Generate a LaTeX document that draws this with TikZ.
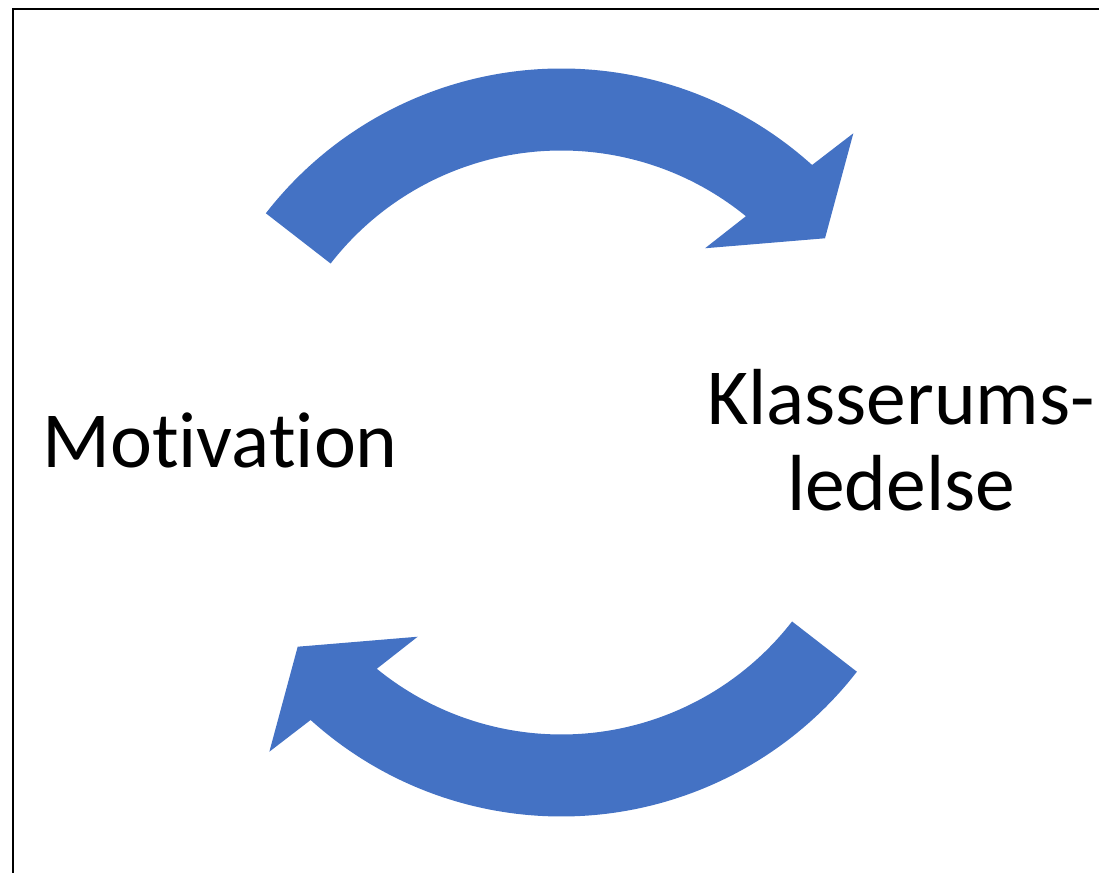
\documentclass[tikz,border=0pt]{standalone}
\usepackage{fontspec}
\setmainfont{Carlito}[Ligatures=NoCommon]
\usepackage{xcolor}
\definecolor{arrowblue}{HTML}{4472C4}

\begin{document}
\begin{tikzpicture}[x=1pt,y=1pt,
  cyclearrow/.style={fill=arrowblue},
  bigtext/.style={font=\fontsize{79.5}{86}\selectfont, inner sep=0pt}]
\useasboundingbox (0,0) rectangle (1099,872);
\clip (0,0) rectangle (1099,872);
\draw[line width=2pt] (13,-10) -- (13,862.5) -- (1110,862.5);
\coordinate (c) at (561.35,429.5);
\foreach \r in {0,180}
  \fill[cyclearrow, shift={(c)}, rotate=\r] (142.2:374) arc[start angle=142.2, end angle=47.9, radius=374] -- (46.64:425.3) -- (37.76:333.5) -- (53.51:241.6) -- (50.8:292) arc[start angle=50.8, end angle=142.2, radius=292] -- cycle;
\node[bigtext, anchor=base] (motivation) at (220,404) {Motivation};
\node[bigtext, anchor=base, align=center] (ledelse) at (901,361) {Klasserums-\\ledelse};
\end{tikzpicture}
\end{document}
